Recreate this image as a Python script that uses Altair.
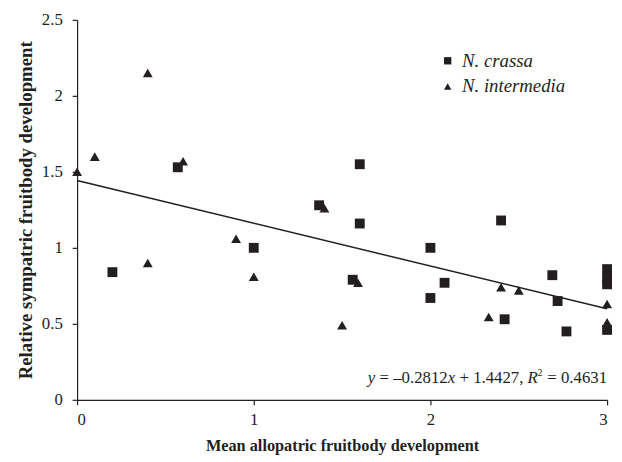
import altair as alt
import pandas as pd

# N. crassa (squares)
crassa_x = [0.2, 0.57, 1.0, 1.60, 1.37, 1.60, 2.0, 1.56, 2.08, 2.0, 2.40, 2.69, 2.72, 2.42, 2.77, 3.0, 3.0, 3.0, 3.0]
crassa_y = [0.84, 1.53, 1.0, 1.55, 1.28, 1.16, 1.0, 0.79, 0.77, 0.67, 1.18, 0.82, 0.65, 0.53, 0.45, 0.86, 0.80, 0.76, 0.46]
# N. intermedia (triangles)
inter_x = [0.0, 0.1, 0.4, 0.6, 0.4, 0.9, 1.0, 1.40, 1.59, 1.5, 2.40, 2.50, 2.33, 3.0, 3.0]
inter_y = [1.50, 1.60, 2.15, 1.57, 0.90, 1.06, 0.81, 1.26, 0.77, 0.49, 0.74, 0.72, 0.545, 0.63, 0.51]

slope = -0.2812
intercept = 1.4427
line_x = [0, 3]

species = ["N. crassa", "N. intermedia"]

pts = pd.DataFrame({
    "x": crassa_x + inter_x,
    "y": crassa_y + inter_y,
    "sp": [species[0]] * len(crassa_x) + [species[1]] * len(inter_x),
})
fit = pd.DataFrame({"x": line_x, "y": [intercept + slope * v for v in line_x]})

FONT = "Liberation Serif"
INK = "#231f20"

xscale = alt.Scale(domain=[0, 3], nice=False, zero=False)
yscale = alt.Scale(domain=[0, 2.5], nice=False)

points = alt.Chart(pts).mark_point(filled=True, opacity=1, color=INK, size=100).encode(
    x=alt.X("x:Q", scale=xscale, title="Mean allopatric fruitbody development",
            axis=alt.Axis(values=[0, 1, 2, 3], format="d", grid=False)),
    y=alt.Y("y:Q", scale=yscale, title="Relative sympatric fruitbody development",
            axis=alt.Axis(values=[0, 0.5, 1, 1.5, 2, 2.5], grid=False, labelExpr="datum.value",
                          titleFontSize=19)),
    shape=alt.Shape("sp:N", scale=alt.Scale(domain=species, range=["square", "triangle-up"]),
                    legend=alt.Legend(title=None, orient="none", legendX=366, legendY=32,
                                      labelFont=FONT, labelFontStyle="italic", labelFontSize=19,
                                      labelColor=INK, symbolFillColor=INK, symbolStrokeColor=INK,
                                      symbolSize=55, rowPadding=6, labelOffset=5, padding=0)),
)

line = alt.Chart(fit).mark_line(color=INK, strokeWidth=1.5).encode(x="x:Q", y="y:Q")

# equation annotation in segments (italic variables)
seg_text = ["y", "= \u20130.2812", "x", "+ 1.4427,", "R", "2", "= 0.4631"]
seg_style = ["italic", "normal", "italic", "normal", "italic", "normal", "normal"]
seg_dx = [0, 12, 81, 93, 162, 172, 182]
seg_dy = [0, 0, 0, 0, 0, -7, 0]
seg_size = [17, 17, 17, 17, 17, 10, 17]
eq_layers = []
for t, st, dx, dy, fs in zip(seg_text, seg_style, seg_dx, seg_dy, seg_size):
    eq_layers.append(
        alt.Chart(pd.DataFrame({"x": [1.645], "y": [0.11], "t": [t]})).mark_text(
            align="left", baseline="alphabetic", font=FONT, fontSize=fs,
            fontStyle=st, color=INK, dx=dx, dy=dy
        ).encode(x="x:Q", y="y:Q", text="t:N")
    )

chart = alt.layer(line, points, *eq_layers).properties(
    width=537, height=385,
    autosize=alt.AutoSizeParams(type="none"),
    padding={"left": 70, "top": 9, "right": 7, "bottom": 60},
).configure_view(stroke=None).configure_axis(
    labelFont=FONT, labelFontSize=17, labelColor=INK,
    titleFont=FONT, titleFontSize=16.5, titleFontWeight="bold", titleColor=INK,
    domainColor=INK, tickColor=INK, domainWidth=1.2, tickWidth=1.2, tickSize=5,
).configure_axisX(labelPadding=7, titlePadding=10).configure_axisY(labelPadding=10, titlePadding=6)

chart.save("out.html", embed_options={"renderer": "svg", "actions": False})
